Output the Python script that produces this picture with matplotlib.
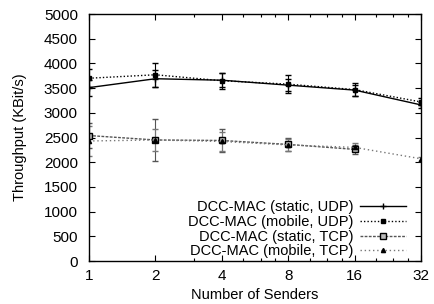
import matplotlib
matplotlib.use('Agg')
import matplotlib.pyplot as plt
from matplotlib.lines import Line2D
from matplotlib.ticker import FixedLocator, NullFormatter

plt.rcParams['font.family'] = ['Liberation Sans', 'DejaVu Sans']

senders = [1, 2, 4, 8, 16, 32]

static_udp = [3510, 3690, 3660, 3560, 3460, 3160]
static_udp_err = [160, 170, 140, 120, 110, 60]
mobile_udp = [3700, 3770, 3650, 3580, 3470, 3220]
mobile_udp_err = [180, 240, 160, 180, 130, 70]
static_tcp = [2540, 2450, 2440, 2360, 2260]
static_tcp_err = [250, 420, 230, 130, 90]
mobile_tcp = [2430, 2450, 2420, 2350, 2300, 2070]
mobile_tcp_err = [300, 230, 200, 130, 80, 40]

labels = ['DCC-MAC (static, UDP)', 'DCC-MAC (mobile, UDP)',
          'DCC-MAC (static, TCP)', 'DCC-MAC (mobile, TCP)']

styles = [
    dict(color='black', ls='-', marker='+', ms=5, mew=1.0),
    dict(color='black', ls=(0, (1, 1.5)), marker='s', ms=3.5),
    dict(color='#555555', ls=(0, (2, 1)), marker='s', ms=5, mfc='#bbbbbb', mec='black'),
    dict(color='#777777', ls=(0, (1, 2)), marker='^', ms=3, mfc='black', mec='black'),
]

fig = plt.figure(figsize=(4.34, 3.04), dpi=100)
ax = fig.add_axes([0.205, 0.1414, 0.765, 0.8125])

ax.errorbar(senders, static_udp, yerr=static_udp_err, lw=1.0, capsize=2,
            elinewidth=0.9, **styles[0])
ax.errorbar(senders, mobile_udp, yerr=mobile_udp_err, lw=1.0, capsize=2,
            elinewidth=0.8, **styles[1])
ax.errorbar(senders[:5], static_tcp, yerr=static_tcp_err, lw=1.0, capsize=2,
            elinewidth=0.8, **styles[2])
ax.errorbar(senders, mobile_tcp, yerr=mobile_tcp_err, lw=1.0, capsize=2,
            elinewidth=0.8, **styles[3])

ax.set_xscale('log', base=2)
ax.set_xlim(1, 32)
ax.set_ylim(0, 5000)
ax.xaxis.set_major_locator(FixedLocator(senders))
ax.set_xticklabels([str(s) for s in senders])
ax.xaxis.set_minor_locator(FixedLocator([3, 5, 6, 7, 10, 12, 14, 20, 24, 28]))
ax.xaxis.set_minor_formatter(NullFormatter())
ax.set_yticks(range(0, 5001, 500))

ax.tick_params(which='both', direction='in', top=True, right=True, labelsize=11)
ax.tick_params(which='major', length=4, width=0.8)
ax.tick_params(which='minor', length=2.5, width=0.8)
ax.tick_params(axis='x', pad=6)
ax.tick_params(axis='y', pad=8)
for s in ax.spines.values():
    s.set_linewidth(1.0)

ax.set_xlabel('Number of Senders', fontsize=10.5, labelpad=3)
ax.set_ylabel('Throughput (KBit/s)', fontsize=10.5, labelpad=12)

handles = [Line2D([], [], lw=1.0, **st) for st in styles]
ax.legend(handles, labels, loc='lower right', bbox_to_anchor=(0.98, -0.025),
          frameon=False, markerfirst=False, fontsize=10.5, handlelength=3.1,
          handletextpad=0.5, labelspacing=0.05, borderaxespad=0.2)

fig.savefig('out.png', dpi=100)
